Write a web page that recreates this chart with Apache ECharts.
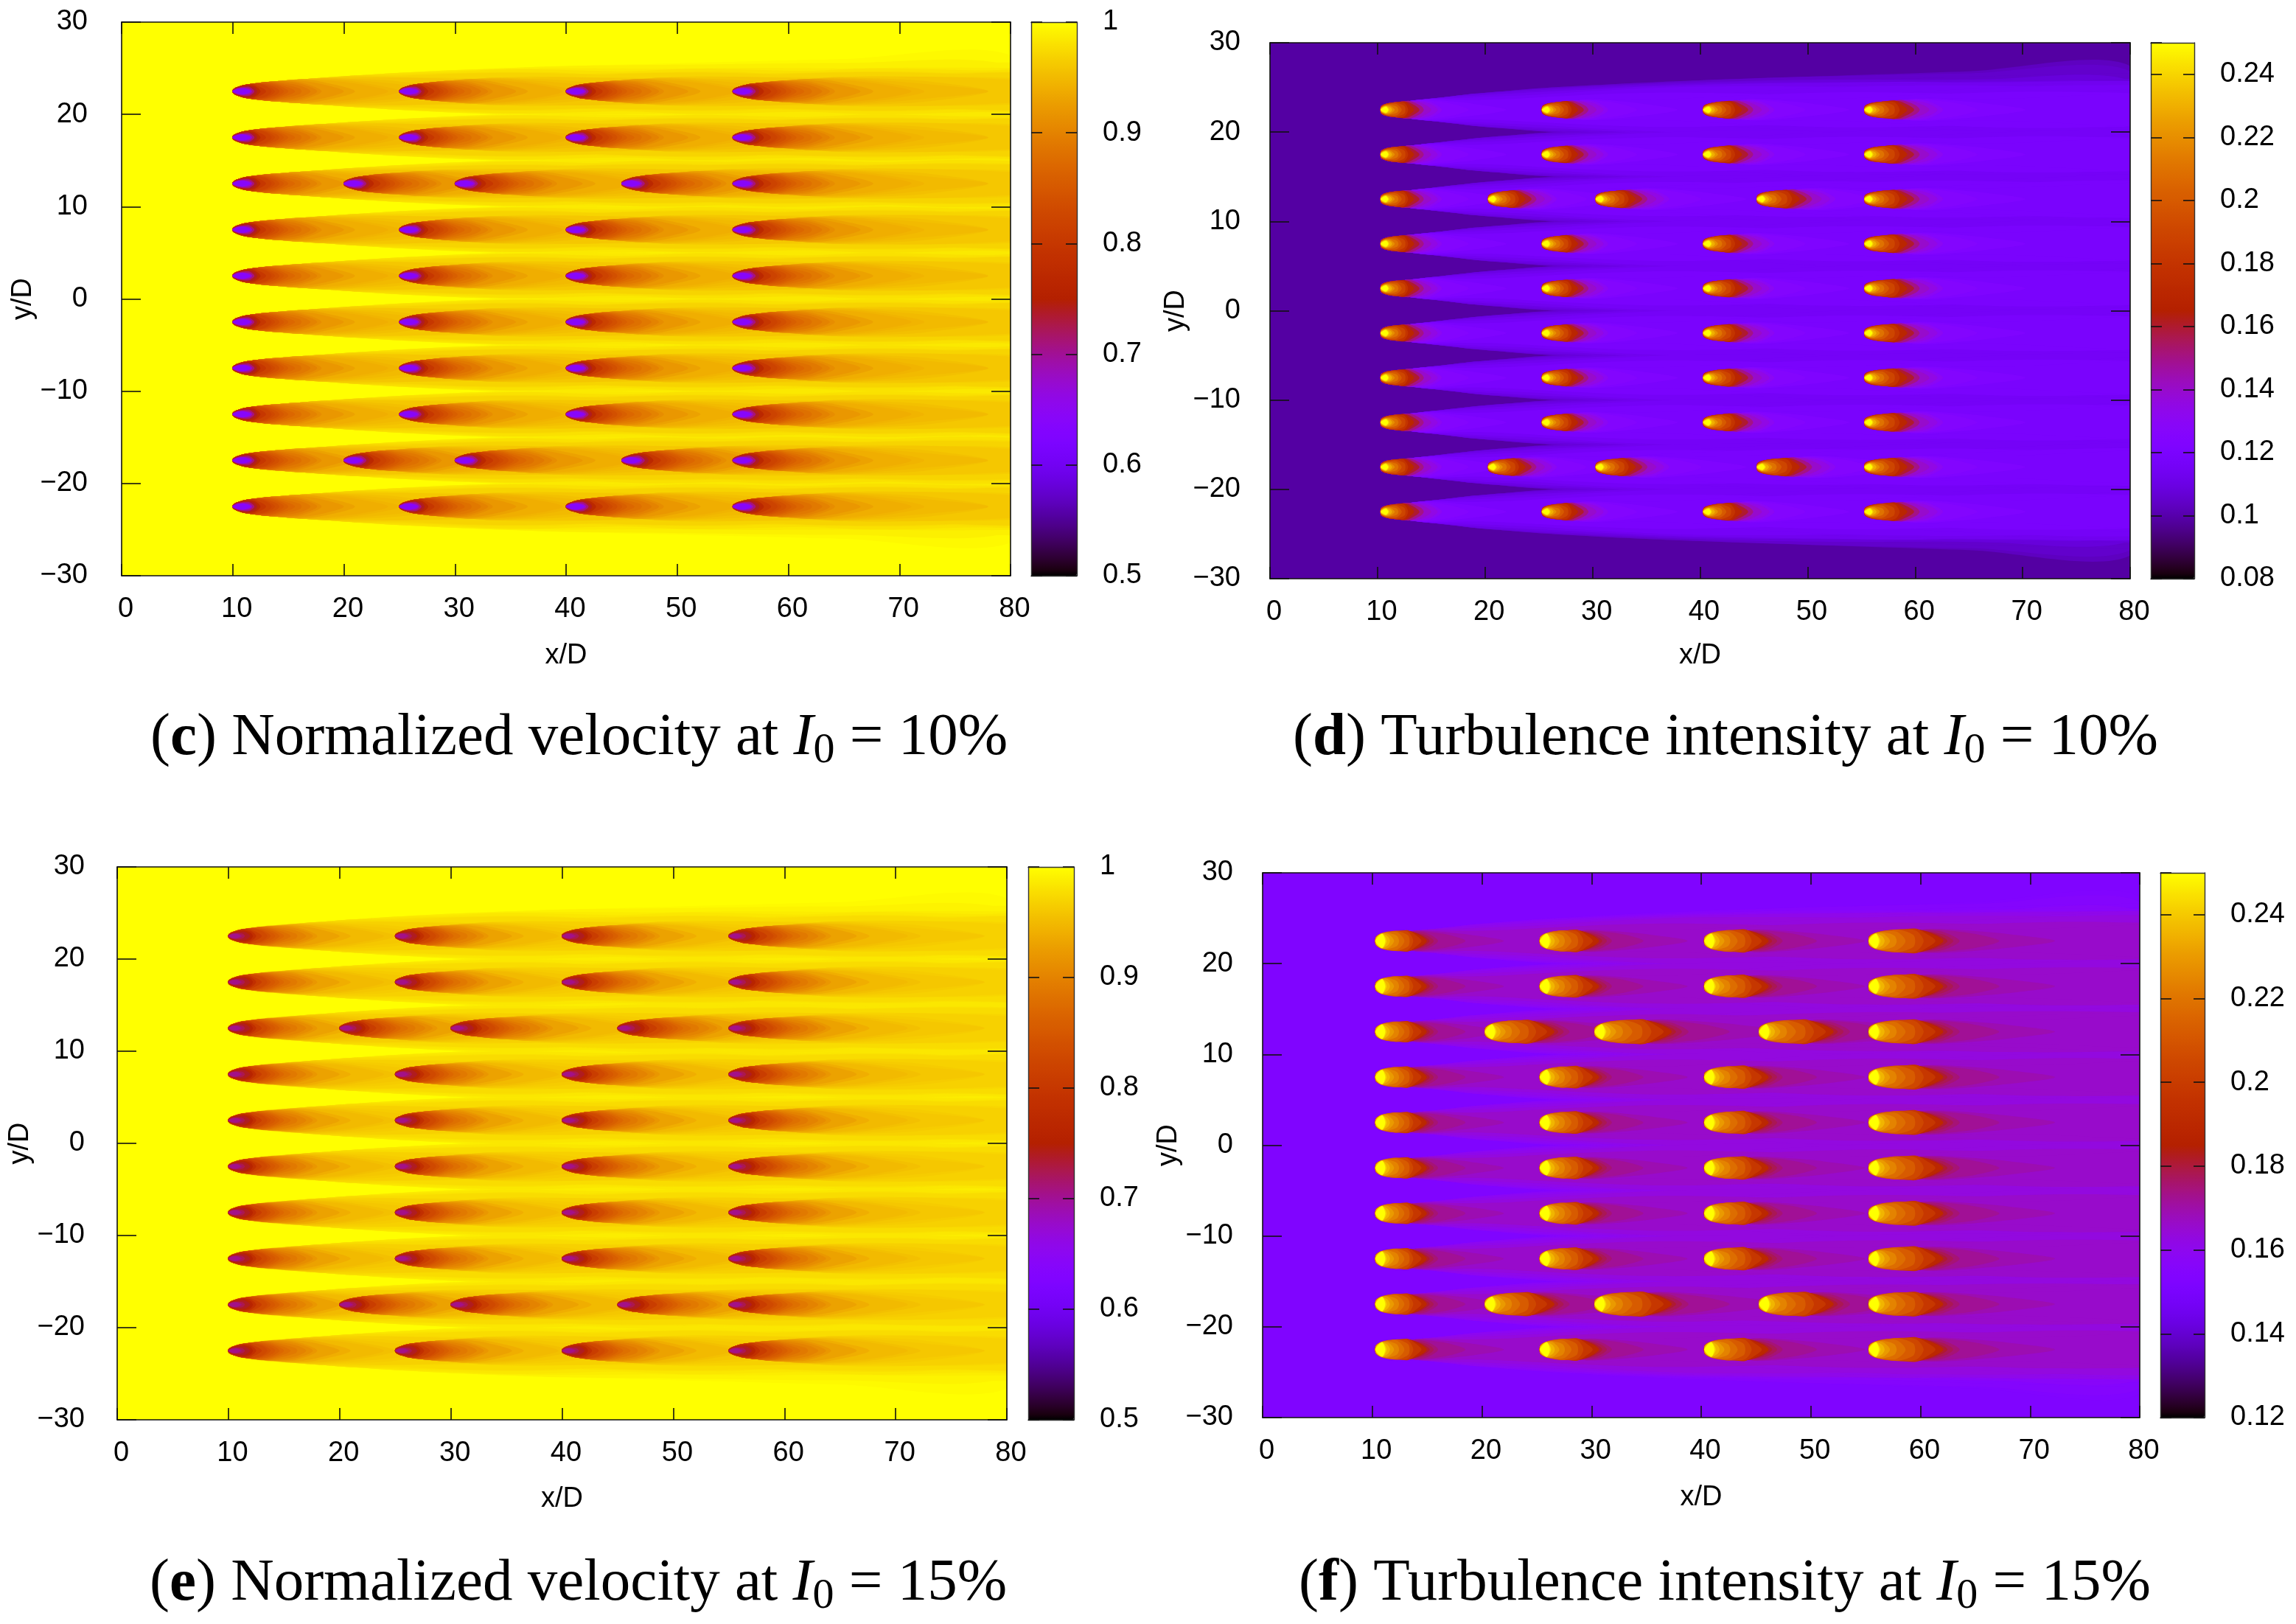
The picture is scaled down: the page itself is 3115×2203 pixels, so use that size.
<!DOCTYPE html>
<html><head><meta charset="utf-8">
<style>html,body{margin:0;padding:0;background:#fff}#c{width:3115px;height:2203px}</style>
<script src="https://cdn.jsdelivr.net/npm/echarts@6/dist/echarts.min.js"></script>
</head><body><div id="c"></div>
<script>
// ---------- turbine layout (x/D, y/D) ----------
const turbineRows = [22.5, 17.5, 12.5, 7.5, 2.5, -2.5, -7.5, -12.5, -17.5, -22.5];
const mainColumns = [10, 25, 40, 55];
const staggeredColumns = [10, 20, 30, 45, 55];
const staggeredRows = [12.5, -17.5];
const stretchColumns = [10, 20, 25, 30, 40, 45, 55];

// ---------- axis ticks ----------
const xTicks = [0, 80, 10];
const yTicks = [-30, 30, 10];

// ---------- wake contours ----------
// Downstream stations (x/D behind the turbine) for each family.
const velocityStations = [0, .2, .5, 1, 1.5, 2, 3, 4, 6, 8, 11, 15, 20, 25, 30, 40, 55, 70];
const turbulenceStations = [.3, .5, .8, 1.2, 1.8, 2.5, 3, 4, 5, 7, 9, 12, 15, 20, 25, 30, 40, 55, 70];

// Each row: [closing station, half widths at the stations...]; null = still open at the last station.
const velocityContours = [
  [null, .15,.35,.5,.68,.78,.86,1.0,1.1,1.28,1.45,1.7,2.0,2.3,2.55,2.75,3.05,3.5,3.9],
  [null, .15,.35,.5,.68,.78,.86,1.0,1.1,1.28,1.45,1.7,2.0,2.3,2.55,2.75,2.88,3.07,2.76],
  [70,   .15,.35,.5,.68,.78,.86,1.0,1.1,1.28,1.45,1.7,2.0,2.3,2.45,2.5,2.42,2.17],
  [55,   .15,.35,.5,.68,.78,.86,1.0,1.1,1.28,1.45,1.7,2.0,2.15,2.4,2.3,1.85],
  [45,   .15,.35,.5,.68,.78,.86,1.0,1.1,1.28,1.45,1.7,1.85,1.98,2.1,2.0,1.0],
  [50,   .15,.35,.5,.68,.78,.86,1.0,1.1,1.28,1.45,1.7,1.69,1.9,2.0,1.9,1.4],
  [30,   .15,.35,.5,.68,.78,.86,1.0,1.1,1.28,1.45,1.59,1.51,1.45,1.1],
  [30,   .15,.35,.5,.68,.78,.86,1.0,1.1,1.28,1.45,1.47,1.5,1.3,.9],
  [20,   .15,.35,.5,.68,.78,.86,1.0,1.1,1.28,1.45,1.34,1.07],
  [20,   .15,.35,.5,.68,.78,.86,1.0,1.1,1.28,1.38,1.2,.76],
  [15,   .15,.35,.5,.68,.78,.86,1.0,1.1,1.28,1.3,1.04],
  [14,   .15,.35,.5,.68,.78,.86,1.0,1.1,1.28,1.21,.85],
  [11,   .15,.35,.5,.68,.78,.86,1.0,1.1,1.28,1.03],
  [10,   .15,.35,.5,.68,.78,.86,1.0,1.1,1.15,.79],
  [8,    .15,.35,.5,.68,.78,.86,1.0,1.1,1.01],
  [7.6,  .15,.35,.5,.68,.78,.86,1.0,1.1,.84],
  [7,    .15,.35,.5,.68,.78,.86,1.0,1.01,.63],
  [6.2,  .15,.35,.5,.68,.78,.86,1.0,.92,.3],
  [5.6,  .15,.35,.5,.68,.78,.86,1.0,.81],
  [5,    .15,.35,.5,.68,.78,.86,.93,.68],
  [4.6,  .15,.35,.5,.68,.78,.86,.845,.53],
  [4.2,  .15,.35,.5,.68,.78,.86,.76,.3],
  [3.8,  .15,.35,.5,.68,.78,.86,.655],
  [3.5,  .15,.35,.5,.68,.78,.82,.535],
  [3,    .15,.35,.5,.68,.78,.73],
  [2.5,  .135,.34,.5,.65,.69,.58],
  [2.2,  .12,.3,.46,.57,.59,.37],
  [1.95, .1,.25,.39,.48,.47],
  [1.75, .075,.19,.3,.36,.29],
  [1.65, .05,.15,.3,.34,.14],
  [1.6,  .03,.12,.27,.3,.1]
];
const turbulenceContours = [
  [null, .35,.55,.68,.78,.86,.93,.98,1.12,1.25,1.52,1.8,2.1,2.4,2.75,3.05,3.3,3.7,4.3,4.9],
  [null, .35,.55,.68,.78,.86,.93,.98,1.12,1.25,1.52,1.8,2.1,2.4,2.75,3.05,3.3,3.7,4.08,4.32],
  [null, .35,.55,.68,.78,.86,.93,.98,1.12,1.25,1.52,1.8,2.1,2.35,2.65,2.9,3.1,3.35,3.33,3.27],
  [null, .35,.55,.68,.78,.86,.93,.98,1.12,1.25,1.52,1.78,2.0,2.2,2.5,2.75,2.95,3.1,3.0,2.6],
  [70,   .35,.55,.68,.78,.86,.93,.98,1.12,1.25,1.47,1.6,1.8,2.0,2.3,2.6,2.8,3.0,2.9],
  [65,   .35,.55,.68,.78,.86,.93,.98,1.12,1.25,1.32,1.4,1.55,1.7,2.1,2.4,2.6,2.6,2.2],
  [50,   .35,.55,.68,.78,.86,.93,.98,1.12,1.22,1.14,1.1,1.2,1.4,1.7,1.9,1.9,1.5],
  [12,   .35,.55,.68,.78,.86,.93,.98,1.12,1.13,.93,.66],
  [8.5,  .35,.55,.68,.78,.86,.93,.98,1.12,1.03,.66],
  [6,    .35,.55,.68,.78,.86,.93,.98,1.02,.84],
  [5.6,  .35,.55,.68,.78,.86,.93,.98,.91,.6],
  [5,    .35,.55,.68,.78,.86,.93,.98,.79],
  [4.3,  .35,.55,.68,.78,.86,.93,.98,.46],
  [3.9,  .33,.55,.68,.78,.86,.93,.79],
  [3.4,  .31,.55,.68,.78,.86,.93,.52],
  [2.85, .29,.52,.68,.78,.86,.75],
  [2.6,  .26,.49,.64,.74,.78,.43],
  [2.25, .23,.45,.59,.65,.61],
  [1.95, .2,.41,.54,.55,.35],
  [1.6,  .16,.37,.48,.43],
  [1.35, .12,.32,.42,.25],
  [1.1,  .05,.28,.4],
  [1.0,  .03,.2,.32]
];

// How much the growth of a downstream turbine's wake reaches each contour row.
const velocityColumnEffect = [1,1,1,1,1,1,1,1,1,1,1,1,1,1,1,1,1,1,1,1,1,1,1,1,1,.8,.6,.4,.3,.2,.2];
const turbulenceColumnEffect = [1,1,1,1,1,1,1,1,1,1,1,1,1,1,1,1,.8,.6,.4,.3,.2,.1,.1];

// Contour values of each panel (one per contour row), and the free-stream value.
const velocity10Levels = [.996,.99,.985,.98,.975,.97,.965,.96,.955,.95,.945,.94,.93,.92,.91,.90,.89,.88,.87,.86,.85,.84,.83,.82,.80,.77,.74,.71,.68,.66,.64];
const velocity15Levels = [.997,.992,.988,.984,.98,.976,.972,.968,.964,.96,.955,.95,.94,.93,.92,.91,.90,.89,.88,.87,.86,.85,.84,.83,.81,.785,.76,.74,.725,.715,.705];
const turbulence10Levels = [.103,.105,.108,.11,.113,.116,.119,.122,.125,.13,.135,.14,.15,.16,.17,.18,.19,.20,.21,.22,.23,.24,.25];
const turbulence15Levels = [.1535,.155,.157,.159,.161,.163,.166,.169,.172,.175,.178,.181,.185,.19,.198,.205,.212,.218,.224,.23,.236,.243,.25];
const freeStream = [1, .0987, 1, .1525];

// Wake size of each panel's contours compared with the family table.
const velocity15Length = [1,1,1,1,1,1,1,1,1,1,1,1,1,1,1,1,1,1,1,1,1,1,1,1,1,1,1,1,.85,.75,.7];
const velocity15Width = [1.05,1.05,1.05,1.05,1.05,1.05,1.03,1.03,1.02,1.02,1,1,1,1,1,1,1,1,1,1,1,1,1,1,1,1,1,.95,.9,.85,.8];
const turbulence15Length = [1,1,1,1,1,1,1,1,1,1,1,1.05,1.15,1.3,1.35,1.35,1.35,1.35,1.3,1.3,1.25,1.25,1.25];
const turbulence15Width = [1,1,1,1,1,1,1,1,1,1,1,1.05,1.1,1.2,1.25,1.3,1.4,1.5,1.6,1.75,1.9,2.0,2.4];

// Wake length growth per turbine column (order of stretchColumns).
const velocity10Stretch = [1,1.1,1.05,1.15,1.1,1.18,1.15];
const velocity15Stretch = [1,1.1,1.05,1.15,1.1,1.18,1.15];
const turbulence10Stretch = [1,1.12,1.08,1.2,1.16,1.28,1.28];
const turbulence15Stretch = [1,1.35,1.15,1.5,1.25,1.45,1.45];

// Colour bar ranges.
const colorRanges = [[.5,1,.1],[.08,.25,.02],[.5,1,.1],[.12,.25,.02]];

const captionLetters = ['c','d','e','f'];
const captionNames = ['Normalized velocity','Turbulence intensity','Normalized velocity','Turbulence intensity'];
const captionLevels = ['10%','10%','15%','15%'];

// ---------- layout ----------
const plotBoxes = [[165,30,1206,751],[1723,58,1167,727],[159,1176,1207,750],[1713,1184,1190,739]];
const barBoxes = [[1399,30,62,751],[2918,58,59,727],[1395,1176,62,750],[2931,1184,60,739]];
const captionPos = [[204,956],[1754,956],[203,2103],[1762,2103]];
const yLabelMargin = [46,40,44,40];
const yNameGap = [96,87,100,99];
const xNameGap = [90,86,89,90];

const panelSetup = [
  {st:velocityStations,ct:velocityContours,lv:velocity10Levels,len:[],wid:[],col:velocity10Stretch,fx:velocityColumnEffect},
  {st:turbulenceStations,ct:turbulenceContours,lv:turbulence10Levels,len:[],wid:[],col:turbulence10Stretch,fx:turbulenceColumnEffect},
  {st:velocityStations,ct:velocityContours,lv:velocity15Levels,len:velocity15Length,wid:velocity15Width,col:velocity15Stretch,fx:velocityColumnEffect},
  {st:turbulenceStations,ct:turbulenceContours,lv:turbulence15Levels,len:turbulence15Length,wid:turbulence15Width,col:turbulence15Stretch,fx:turbulenceColumnEffect}
];

// gnuplot's default pm3d palette (rgbformulae 7,5,15)
const palette = [];
for (let i = 0; i <= 128; i++) {
  const x = i / 128;
  const r = Math.round(255 * Math.sqrt(x));
  const g = Math.round(255 * x * x * x);
  const b = Math.round(255 * Math.max(0, Math.sin(2 * Math.PI * x)));
  palette.push('rgb(' + r + ',' + g + ',' + b + ')');
}

const turbines = [];
turbineRows.forEach(y => (staggeredRows.includes(y) ? staggeredColumns : mainColumns).forEach(x => turbines.push([x, y])));

const FONT = '"Liberation Sans", Arial, sans-serif';
const SERIF = '"Liberation Serif", "Times New Roman", serif';
const minus = v => String(v).replace('-', '\u2212');

const grid = [], xAxis = [], yAxis = [], series = [], visualMap = [], title = [];
const lineStyle = {color:'#111', width:1.6};

function renderer(p) {
  return function (params, api) {
    const t = api.value(0), c = api.value(1);
    let pts, smooth = 0;
    if (t < 0) {
      pts = [[0,-30],[80,-30],[80,30],[0,30]];
    } else {
      const [tx, ty] = turbines[t];
      const row = p.ct[c], st = p.st, n = row.length - 1;
      const s = 1 + (p.col[stretchColumns.indexOf(tx)] - 1) * p.fx[c];
      const ls = (p.len[c] === undefined ? 1 : p.len[c]) * s;
      const ws = (p.wid[c] === undefined ? 1 : p.wid[c]) * (1 + (s - 1) * .35);
      const pos = d => tx + st[0] + (d - st[0]) * ls;
      const up = [], lo = [];
      for (let i = 0; i < n; i++) {
        up.push([pos(st[i]), ty + row[i + 1] * ws]);
        lo.unshift([pos(st[i]), ty - row[i + 1] * ws]);
      }
      pts = row[0] === null ? up.concat(lo) : up.concat([[pos(row[0]), ty]], lo);
      smooth = .3;
    }
    return {
      type:'polygon',
      shape:{points: pts.map(q => api.coord(q)), smooth},
      style:{fill: api.visual('color')}
    };
  };
}

panelSetup.forEach((p, i) => {
  const [l,t,w,h] = plotBoxes[i];
  const [bl,bt,bw,bh] = barBoxes[i];
  const g0 = grid.length;
  grid.push({left:l, top:t, width:w, height:h, containLabel:false});
  grid.push({left:bl, top:bt, width:bw, height:bh, containLabel:false});

  const xBase = {type:'value', min:xTicks[0], max:xTicks[1], interval:xTicks[2], z:6, splitLine:{show:false},
    axisLine:{show:true, onZero:false, lineStyle}, axisTick:{show:true, inside:true, length:16, lineStyle}};
  const yBase = {type:'value', min:yTicks[0], max:yTicks[1], interval:yTicks[2], z:6, splitLine:{show:false},
    axisLine:{show:true, onZero:false, lineStyle}, axisTick:{show:true, inside:true, length:26, lineStyle}};

  const xi = xAxis.length, yi = yAxis.length;
  xAxis.push(Object.assign({}, xBase, {gridIndex:g0, position:'bottom', name:'x/D', nameLocation:'middle', nameGap:xNameGap[i],
    nameTextStyle:{fontFamily:FONT, fontSize:38, color:'#000'},
    axisLabel:{show:true, margin:27, fontFamily:FONT, fontSize:38, color:'#000', padding:[0,0,0,11], formatter:minus}}));
  xAxis.push(Object.assign({}, xBase, {gridIndex:g0, position:'top', axisLabel:{show:false}}));
  yAxis.push(Object.assign({}, yBase, {gridIndex:g0, position:'left', name:'y/D', nameLocation:'middle', nameGap:yNameGap[i], nameRotate:90,
    nameTextStyle:{fontFamily:FONT, fontSize:38, color:'#000'},
    axisLabel:{show:true, margin:yLabelMargin[i], fontFamily:FONT, fontSize:38, color:'#000', padding:[7,0,0,0], formatter:minus}}));
  yAxis.push(Object.assign({}, yBase, {gridIndex:g0, position:'right', axisLabel:{show:false}}));

  // colour-bar frame and ticks
  const [cMin, cMax, cStep] = colorRanges[i];
  const barX = {type:'value', min:0, max:1, gridIndex:g0 + 1, z:6, splitLine:{show:false}, axisTick:{show:false}, axisLabel:{show:false},
    axisLine:{show:true, onZero:false, lineStyle:{color:'#333', width:1.4}}};
  xAxis.push(Object.assign({}, barX, {position:'bottom'}));
  xAxis.push(Object.assign({}, barX, {position:'top'}));
  const barY = {type:'value', min:cMin, max:cMax, interval:cStep, gridIndex:g0 + 1, z:6, splitLine:{show:false},
    axisLine:{show:true, onZero:false, lineStyle:{color:'#333', width:1.4}},
    axisTick:{show:true, inside:true, length:15, lineStyle}};
  yAxis.push(Object.assign({}, barY, {position:'left', axisLabel:{show:false}}));
  yAxis.push(Object.assign({}, barY, {position:'right',
    axisLabel:{show:true, margin:35, fontFamily:FONT, fontSize:38, color:'#000', padding:[7,0,0,0], showMaxLabel:cMax === 1}}));

  // wake field
  const data = [[-1, 0, freeStream[i]]];
  p.lv.forEach((v, c) => turbines.forEach((_, t) => data.push([t, c, v])));
  const sIndex = series.length;
  series.push({type:'custom', xAxisIndex:xi, yAxisIndex:yi, coordinateSystem:'cartesian2d', clip:true, silent:true,
    animation:false, progressive:0, z:2, dimensions:['turbine','contour','value'], encode:{value:2},
    renderItem:renderer(p), data});

  visualMap.push({type:'continuous', seriesIndex:sIndex, dimension:2, min:cMin, max:cMax, calculable:false, hoverLink:false,
    left:bl, top:bt, itemWidth:bw, itemHeight:bh, padding:0, text:null, z:1, inRange:{color:palette}});

  // caption
  title.push({left:captionPos[i][0], top:captionPos[i][1], padding:0,
    text:'({b|' + captionLetters[i] + '}) ' + captionNames[i] + ' at {i|I}{s|0} = ' + captionLevels[i],
    textStyle:{fontFamily:SERIF, fontSize:81, fontWeight:'normal', color:'#000', lineHeight:92,
      rich:{
        b:{fontFamily:SERIF, fontSize:81, fontWeight:'bold', color:'#000'},
        i:{fontFamily:SERIF, fontSize:81, fontStyle:'italic', color:'#000'},
        s:{fontFamily:SERIF, fontSize:58, color:'#000', verticalAlign:'bottom', padding:[26,0,0,0]}
      }}});
});

const chart = echarts.init(document.getElementById('c'), null, {renderer:'canvas'});
chart.setOption({animation:false, backgroundColor:'#fff', title, grid, xAxis, yAxis, visualMap, series});
</script>
</body></html>
